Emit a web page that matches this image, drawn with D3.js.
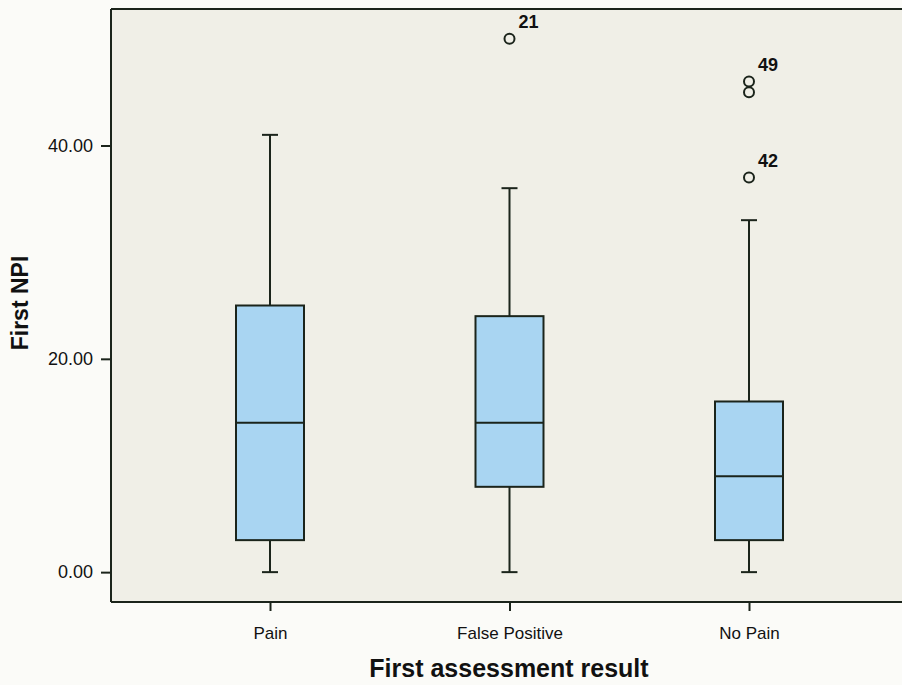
<!DOCTYPE html>
<html>
<head>
<meta charset="utf-8">
<script src="https://cdn.jsdelivr.net/npm/d3@7"></script>
<style>
  html, body { margin: 0; padding: 0; background: #fbfbf8; }
  svg { display: block; }
  text { font-family: "Liberation Sans", Arial, sans-serif; fill: #111; }
</style>
</head>
<body>
<svg id="chart" width="902" height="685"></svg>
<script>
// Box-plot summaries of First NPI for each assessment group
const categories = ["Pain", "False Positive", "No Pain"];
const lowerWhisker = [0, 0, 0];
const q1 = [3, 8, 3];
const median = [14, 14, 9];
const q3 = [25, 24, 16];
const upperWhisker = [41, 36, 33];

// Outlying cases: group, value, case label ("" = unlabeled)
const outlierGroup = ["False Positive", "No Pain", "No Pain", "No Pain"];
const outlierValue = [50, 46, 45, 37];
const outlierLabel = ["21", "49", "", "42"];

const yTicks = [0, 20, 40];

const svg = d3.select("#chart");
const plot = { left: 111, right: 905, top: 9, bottom: 602 };

const y = d3.scaleLinear().domain([-2.8, 52.8]).range([plot.bottom, plot.top]);
const x = d3.scalePoint().domain(categories).range([270, 749]);

const ink = "#1b241b";
const boxW = 68, capW = 16;
const fontFam = "Liberation Sans, Arial, sans-serif";

// plot background
svg.append("rect")
  .attr("x", plot.left).attr("y", plot.top)
  .attr("width", plot.right - plot.left).attr("height", plot.bottom - plot.top)
  .attr("fill", "#f0efe7");

// top frame line
svg.append("line")
  .attr("x1", plot.left).attr("x2", plot.right)
  .attr("y1", plot.top).attr("y2", plot.top)
  .attr("stroke", ink).attr("stroke-width", 2);

// y axis
const yAxis = svg.append("g")
  .attr("transform", `translate(${plot.left},0)`)
  .call(d3.axisLeft(y).tickValues(yTicks).tickFormat(d3.format(".2f")).tickSize(10).tickPadding(8));
yAxis.select(".domain").attr("stroke", ink).attr("stroke-width", 2)
  .attr("d", `M0,${plot.bottom}V${plot.top}`);
yAxis.selectAll(".tick line").attr("stroke", ink).attr("stroke-width", 2);
yAxis.selectAll(".tick text")
  .attr("font-size", 18).attr("fill", "#111")
  .style("font-family", fontFam);

// x axis
const xAxis = svg.append("g")
  .attr("transform", `translate(0,${plot.bottom})`)
  .call(d3.axisBottom(x).tickSize(9).tickPadding(16));
xAxis.select(".domain").attr("stroke", ink).attr("stroke-width", 2)
  .attr("d", `M${plot.left},0H${plot.right}`);
xAxis.selectAll(".tick line").attr("stroke", ink).attr("stroke-width", 2);
xAxis.selectAll(".tick text")
  .attr("font-size", 17).attr("fill", "#111")
  .style("font-family", fontFam);

// boxes
const data = categories.map((c, i) => ({
  c, lo: lowerWhisker[i], q1: q1[i], med: median[i], q3: q3[i], hi: upperWhisker[i]
}));

const g = svg.append("g").selectAll("g.box").data(data).join("g").attr("class", "box");

// whisker stems
g.append("line")
  .attr("x1", d => x(d.c)).attr("x2", d => x(d.c))
  .attr("y1", d => y(d.hi)).attr("y2", d => y(d.q3))
  .attr("stroke", ink).attr("stroke-width", 2);
g.append("line")
  .attr("x1", d => x(d.c)).attr("x2", d => x(d.c))
  .attr("y1", d => y(d.q1)).attr("y2", d => y(d.lo))
  .attr("stroke", ink).attr("stroke-width", 2);
// caps
g.append("line")
  .attr("x1", d => x(d.c) - capW / 2).attr("x2", d => x(d.c) + capW / 2)
  .attr("y1", d => y(d.hi)).attr("y2", d => y(d.hi))
  .attr("stroke", ink).attr("stroke-width", 2);
g.append("line")
  .attr("x1", d => x(d.c) - capW / 2).attr("x2", d => x(d.c) + capW / 2)
  .attr("y1", d => y(d.lo)).attr("y2", d => y(d.lo))
  .attr("stroke", ink).attr("stroke-width", 2);
// box
g.append("rect")
  .attr("x", d => x(d.c) - boxW / 2).attr("width", boxW)
  .attr("y", d => y(d.q3)).attr("height", d => y(d.q1) - y(d.q3))
  .attr("fill", "#a9d5f2").attr("stroke", ink).attr("stroke-width", 2);
// median
g.append("line")
  .attr("x1", d => x(d.c) - boxW / 2).attr("x2", d => x(d.c) + boxW / 2)
  .attr("y1", d => y(d.med)).attr("y2", d => y(d.med))
  .attr("stroke", ink).attr("stroke-width", 2);

// outliers
const outliers = outlierValue.map((v, i) => ({ c: outlierGroup[i], v, label: outlierLabel[i] }));
svg.append("g").selectAll("circle").data(outliers).join("circle")
  .attr("cx", d => x(d.c)).attr("cy", d => y(d.v)).attr("r", 5)
  .attr("fill", "none").attr("stroke", ink).attr("stroke-width", 2);
svg.append("g").selectAll("text").data(outliers.filter(d => d.label)).join("text")
  .attr("x", d => x(d.c) + 9).attr("y", d => y(d.v) - 11)
  .attr("font-size", 18).attr("font-weight", "bold")
  .text(d => d.label);

// axis titles
svg.append("text")
  .attr("transform", `translate(28,303) rotate(-90)`)
  .attr("text-anchor", "middle").attr("font-size", 23).attr("font-weight", "bold")
  .text("First NPI");
svg.append("text")
  .attr("x", 509).attr("y", 677)
  .attr("text-anchor", "middle").attr("font-size", 25).attr("font-weight", "bold")
  .text("First assessment result");
</script>
</body>
</html>
